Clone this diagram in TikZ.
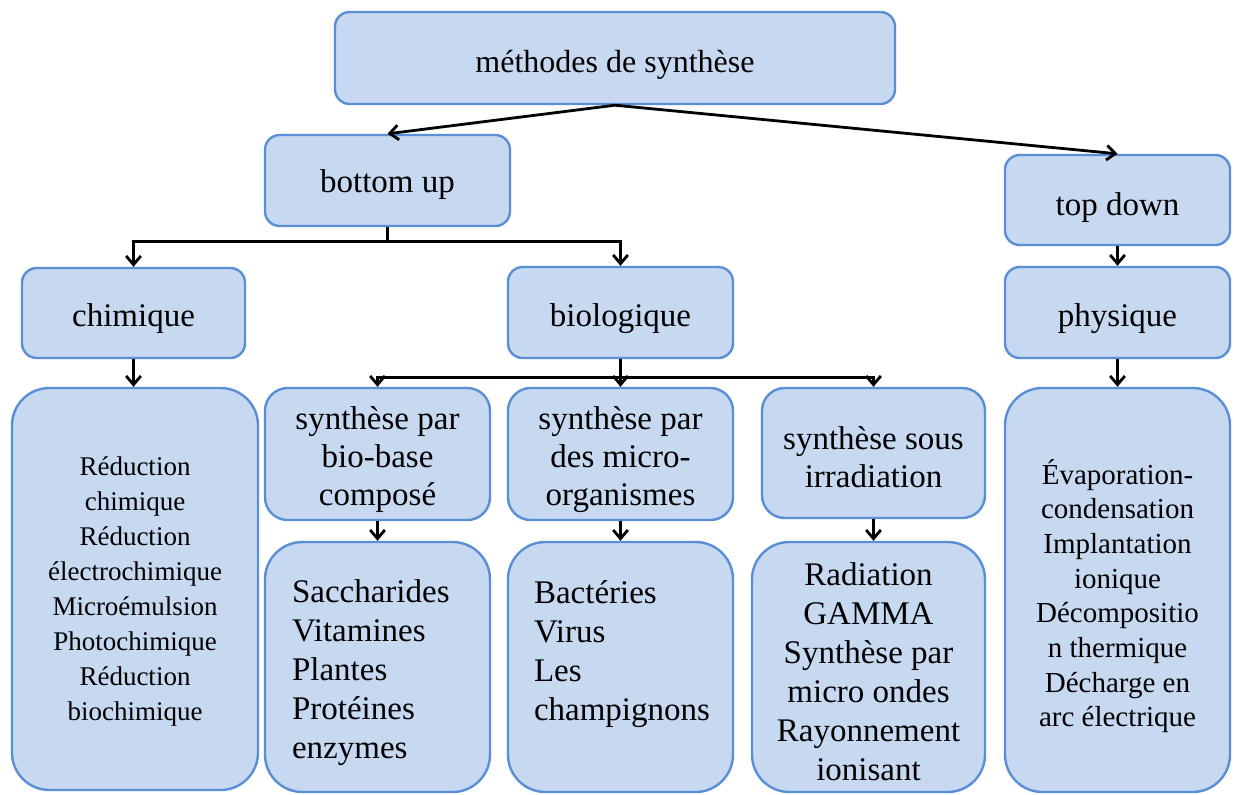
\documentclass[tikz,border=0pt]{standalone}
\usepackage{fontspec}
\setmainfont{Liberation Serif}
\usetikzlibrary{arrows.meta}
\definecolor{boxfill}{RGB}{198,217,241}
\definecolor{boxline}{RGB}{90,143,213}
\begin{document}
\begin{tikzpicture}[x=0.75pt,y=-0.75pt,
  box/.style={draw=boxline, fill=boxfill, line width=1.8pt, inner sep=0pt},
  small/.style={box, rounded corners=11pt},
  mid/.style={box, rounded corners=17pt},
  big/.style={box, rounded corners=28pt},
  txt/.style={inner sep=0pt, align=center, yshift=-4.5pt,
    font=\fontsize{24.75}{28.5}\selectfont},
  listtxt/.style={txt, font=\fontsize{24.75}{29.25}\selectfont},
  arr/.style={draw=black, line width=2.1pt,
    -{Straight Barb[length=6.5pt,width=11pt,line width=2.1pt]}},
  link/.style={draw=black, line width=2.1pt}]
\useasboundingbox[fill=white] (0,0) rectangle (1234,794);

% first two levels
\node[small, minimum width=420pt, minimum height=69pt] (top) at (615,58) {};
\node[txt, font=\fontsize{24}{28}\selectfont, yshift=-0.8pt] (toptxt) at (top) {méthodes de synthèse};
\node[small, minimum width=183.75pt, minimum height=68.25pt] (bu) at (387.5,180.5) {};
\node[txt, yshift=1.5pt] (butxt) at (bu) {bottom up};
\node[small, minimum width=168.75pt, minimum height=67.5pt] (td) at (1117.5,200) {};
\node[txt, yshift=-1.5pt] (tdtxt) at (td) {top down};

% families
\node[small, minimum width=167.25pt, minimum height=67.5pt] (chim) at (133.5,313) {};
\node[txt] (chimtxt) at (chim) {chimique};
\node[small, minimum width=168.75pt, minimum height=68.25pt] (bio) at (620.5,312.5) {};
\node[txt] (biotxt) at (bio) {biologique};
\node[small, minimum width=168.75pt, minimum height=68.25pt] (phys) at (1117.5,312.5) {};
\node[txt] (phystxt) at (phys) {physique};

% chemical methods
\node[big, minimum width=184.5pt, minimum height=301.5pt] (chimlist) at (135,589) {};
\node[txt, yshift=2.5pt, font=\fontsize{20.25}{26.25}\selectfont] (chimlisttxt) at (chimlist)
  {Réduction\\chimique\\Réduction\\électrochimique\\Microémulsion\\Photochimique\\Réduction\\biochimique};

% biological routes
\node[mid, minimum width=168.75pt, minimum height=99pt] (sp1) at (377.5,454) {};
\node[txt] (sp1txt) at (sp1) {synthèse par\\bio-base\\composé};
\node[mid, minimum width=168.75pt, minimum height=99pt] (sp2) at (620.5,454) {};
\node[txt] (sp2txt) at (sp2) {synthèse par\\des micro-\\organismes};
\node[mid, minimum width=167.25pt, minimum height=97.5pt] (sp3) at (873.5,453) {};
\node[txt, yshift=1pt] (sp3txt) at (sp3) {synthèse sous\\irradiation};

\node[big, minimum width=168.75pt, minimum height=187.5pt] (list1) at (377.5,667) {};
\node[listtxt, align=left, xshift=-5pt] (list1txt) at (list1) {Saccharides\\Vitamines\\Plantes\\Protéines\\enzymes};
\node[big, minimum width=168.75pt, minimum height=187.5pt] (list2) at (620.5,667) {};
\node[listtxt, align=left, anchor=north, yshift=3pt] (list2txt) at (622,578) {Bactéries\\Virus\\Les\\champignons};
\node[big, minimum width=174.75pt, minimum height=187.5pt] (list3) at (868.5,667) {};
\node[listtxt, yshift=1pt] (list3txt) at (list3) {Radiation\\GAMMA\\Synthèse par\\micro ondes\\Rayonnement\\ionisant};

% physical methods
\node[big, minimum width=168.75pt, minimum height=303pt] (physlist) at (1117.5,590) {};
\node[txt, font=\fontsize{21.75}{26}\selectfont] (physlisttxt) at (physlist)
  {Évaporation-\\condensation\\Implantation\\ionique\\Décompositio\\n thermique\\Décharge en\\arc électrique};

% connectors
\draw[arr] (top.south) -- (bu.north);
\draw[arr] (top.south) -- (td.north);
\coordinate (bujoin) at ([yshift=-10.5pt]bu.south);
\draw[link] (bu.south) -- (bujoin);
\draw[arr] (bujoin) -| (chim.north);
\draw[arr] (bujoin) -| (bio.north);
\draw[arr] (td.south) -- (phys.north);
\draw[arr] (chim.south) -- (chim.south |- chimlist.north);
\draw[arr] (phys.south) -- (physlist.north);
\coordinate (biojoin) at ([yshift=-14pt]bio.south);
\draw[link] (bio.south) -- (biojoin);
\draw[arr] (biojoin) -| (sp1.north);
\draw[arr] (biojoin) -| (sp2.north);
\draw[arr] (biojoin) -| (sp3.north);
\draw[arr] (sp1.south) -- (list1.north);
\draw[arr] (sp2.south) -- (list2.north);
\draw[arr] (sp3.south) -- (sp3.south |- list3.north);
\end{tikzpicture}
\end{document}
